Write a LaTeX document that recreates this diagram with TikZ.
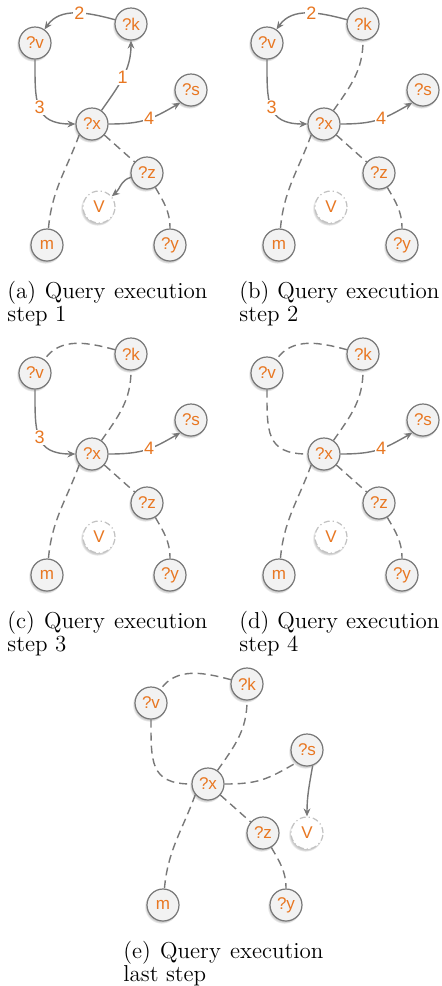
\documentclass[tikz,border=0pt]{standalone}
\usepackage{fontspec}
\newfontfamily\qsans{Liberation Sans}
\usetikzlibrary{arrows.meta,shadows}
\definecolor{qorange}{RGB}{232,119,34}
\definecolor{qline}{RGB}{120,120,120}
\tikzset{
  qvar/.style={circle,draw=qline,line width=0.6pt,fill=gray!10,minimum size=16pt,inner sep=0pt,
    text=qorange,font=\qsans\fontsize{8.5}{9}\selectfont,
    circular drop shadow={shadow xshift=-0.7pt,shadow yshift=-0.7pt,shadow scale=1.08,opacity=0.45}},
  qconst/.style={qvar,fill=white,draw=qline!45,dash pattern=on 3pt off 1.5pt on 0.6pt off 1.5pt},
  qhop/.style={draw=qline,line width=0.7pt,-{Stealth[length=4pt,width=3.4pt]}},
  qgap/.style={draw=qline,line width=0.7pt,dash pattern=on 4pt off 2.5pt},
  qnum/.style={fill=white,inner sep=0.6pt,text=qorange,font=\qsans\fontsize{9}{9}\selectfont},
  qcap/.style={anchor=base west,inner sep=0pt,font=\fontsize{11.5}{13}\selectfont}
}
\newcommand{\qnodes}[3]{%
  \node[qvar] (#1v) at (35,43) {?v};
  \node[qvar] (#1k) at (131,24) {?k};
  \node[qvar] (#1s) at (191,90) {?s};
  \node[qvar] (#1x) at (92,124) {?x};
  \node[qvar] (#1z) at (147,173) {?z};
  \node[qconst] (#1V) at (#2,#3) {V};
  \node[qvar] (#1m) at (47,245) {m};
  \node[qvar] (#1y) at (170,245) {?y};
}
\begin{document}
\begin{tikzpicture}[x=0.5pt,y=-0.5pt]
\useasboundingbox (0,0) rectangle (442,986);
% (a)
\begin{scope}
\qnodes{a}{99}{207}
\draw[qhop] (ak) to[out=165,in=55] node[qnum,pos=0.45]{2} (av);
\draw[qhop] (ax.55) to[out=55,in=-90] node[qnum]{1} (ak);
\draw[qhop] (av) to[out=-90,in=180,looseness=1.4] node[qnum]{3} (ax);
\draw[qhop] (ax) to[out=0,in=-150,looseness=1.15] node[qnum,pos=0.55]{4} (as.-130);
\draw[qgap] (ax) -- (az);
\draw[qgap] (ax.-140) to[out=-110,in=85] (am);
\draw[qgap] (az) to[out=-60,in=90] (ay);
\draw[qhop] (az) to[out=195,in=40] (aV);
\node[qcap] (capa1) at (7,298) {\makebox[100pt][s]{(a) Query execution}};
\node[qcap] (capa2) at (7,321) {step 1};
\end{scope}
% (b)
\begin{scope}[shift={(232,0)}]
\qnodes{b}{99}{207}
\draw[qhop] (bk) to[out=165,in=55] node[qnum,pos=0.45]{2} (bv);
\draw[qgap] (bx.55) to[out=55,in=-90] (bk);
\draw[qhop] (bv) to[out=-90,in=180,looseness=1.4] node[qnum]{3} (bx);
\draw[qhop] (bx) to[out=0,in=-150,looseness=1.15] node[qnum,pos=0.55]{4} (bs.-130);
\draw[qgap] (bx) -- (bz);
\draw[qgap] (bx.-140) to[out=-110,in=85] (bm);
\draw[qgap] (bz) to[out=-60,in=90] (by);
\node[qcap] (capb1) at (7,298) {\makebox[100pt][s]{(b) Query execution}};
\node[qcap] (capb2) at (7,321) {step 2};
\end{scope}
% (c)
\begin{scope}[shift={(0,330)}]
\qnodes{c}{99}{207}
\draw[qgap] (ck) to[out=165,in=55] (cv);
\draw[qgap] (cx.55) to[out=55,in=-90] (ck);
\draw[qhop] (cv) to[out=-90,in=180,looseness=1.4] node[qnum]{3} (cx);
\draw[qhop] (cx) to[out=0,in=-150,looseness=1.15] node[qnum,pos=0.55]{4} (cs.-130);
\draw[qgap] (cx) -- (cz);
\draw[qgap] (cx.-140) to[out=-110,in=85] (cm);
\draw[qgap] (cz) to[out=-60,in=90] (cy);
\node[qcap] (capc1) at (7,298) {\makebox[100pt][s]{(c) Query execution}};
\node[qcap] (capc2) at (7,321) {step 3};
\end{scope}
% (d)
\begin{scope}[shift={(232,330)}]
\qnodes{d}{99}{207}
\draw[qgap] (dk) to[out=165,in=55] (dv);
\draw[qgap] (dx.55) to[out=55,in=-90] (dk);
\draw[qgap] (dv) to[out=-90,in=180,looseness=1.4] (dx);
\draw[qhop] (dx) to[out=0,in=-150,looseness=1.15] node[qnum,pos=0.55]{4} (ds.-130);
\draw[qgap] (dx) -- (dz);
\draw[qgap] (dx.-140) to[out=-110,in=85] (dm);
\draw[qgap] (dz) to[out=-60,in=90] (dy);
\node[qcap] (capd1) at (7,298) {\makebox[100pt][s]{(d) Query execution}};
\node[qcap] (capd2) at (7,321) {step 4};
\end{scope}
% (e)
\begin{scope}[shift={(116,660)}]
\qnodes{e}{191}{173}
\draw[qgap] (ek) to[out=165,in=55] (ev);
\draw[qgap] (ex.55) to[out=55,in=-90] (ek);
\draw[qgap] (ev) to[out=-90,in=180,looseness=1.4] (ex);
\draw[qgap] (ex) to[out=0,in=-150,looseness=1.15] (es.-130);
\draw[qgap] (ex) -- (ez);
\draw[qgap] (ex.-140) to[out=-110,in=85] (em);
\draw[qgap] (ez) to[out=-60,in=90] (ey);
\draw[qhop] (es.-70) to[out=-100,in=90] (eV);
\node[qcap] (cape1) at (7,298) {\makebox[100pt][s]{(e) Query execution}};
\node[qcap] (cape2) at (7,321) {last step};
\end{scope}
\end{tikzpicture}
\end{document}
